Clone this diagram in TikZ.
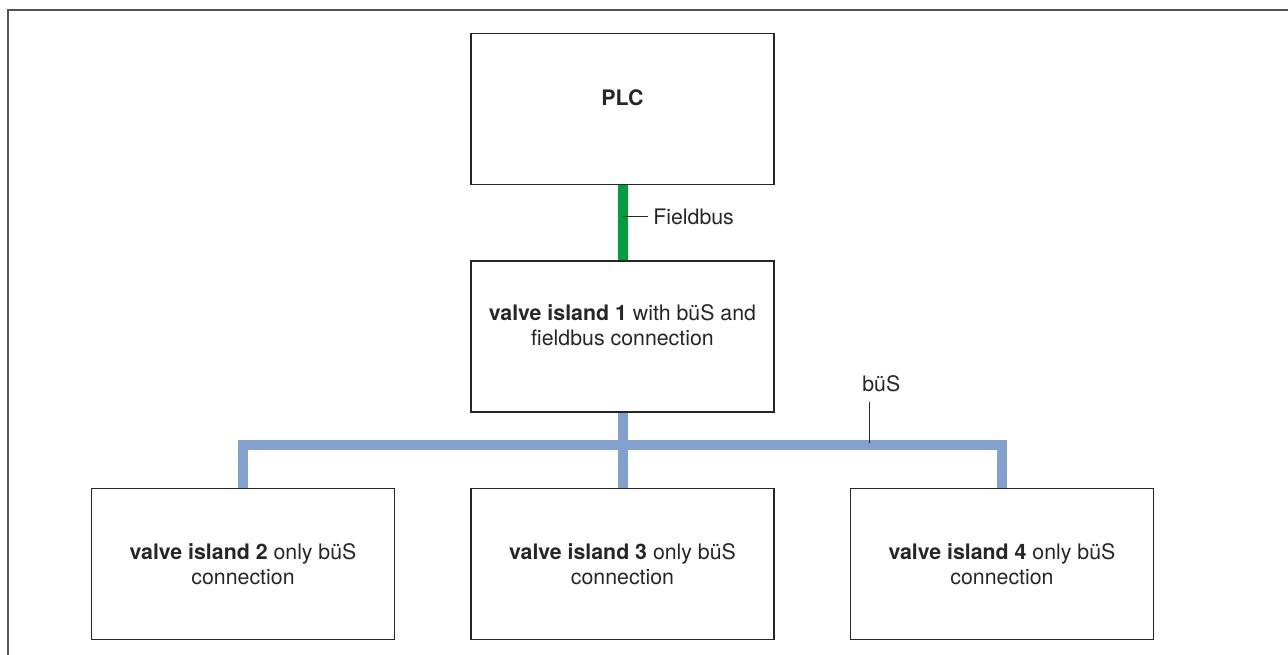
\documentclass[tikz,border=0pt]{standalone}
\usepackage{fontspec}
\setmainfont{TeX Gyre Heros}
\usetikzlibrary{positioning}
\definecolor{busblue}{RGB}{130,161,206}
\definecolor{fbgreen}{RGB}{0,158,61}
\definecolor{framegray}{RGB}{85,85,85}

\begin{document}
\begin{tikzpicture}[
    x=0.75pt, y=-0.75pt,
    node distance=56.25pt and 56.25pt,
    box/.style={draw=black!85, line width=1.1pt, align=center,
                minimum width=227.25pt, minimum height=113.25pt,
                text=black!85, font=\fontsize{16}{19}\selectfont},
    txt/.style={align=center, text=black!85, font=\fontsize{16}{19}\selectfont},
    lbl/.style={text=black!85, font=\fontsize{16}{19}\selectfont, inner sep=3.75pt},
    bus/.style={line width=7.5pt, busblue},
    fbus/.style={line width=7.5pt, fbgreen},
    tick/.style={line width=0.75pt, black!85}
  ]
    \useasboundingbox (0,0) rectangle (1288,655);
    \draw[framegray, line width=1.5pt] (8,655) -- (8,10) -- (1288,10);

    % controller and first island
    \node[box] (plc) at (622.5,109) {};
    \node[txt] (plctext) at ([yshift=8.5pt]plc.center) {\bfseries PLC};
    \node[box, below=of plc] (isl1) {};
    \node[txt] (isl1text) at ([yshift=8.25pt]isl1.center)
      {\textbf{valve island 1} with büS and\\fieldbus connection};

    % bus-only islands
    \node[box, below=of isl1] (isl3) {\textbf{valve island 3} only büS\\connection};
    \node[box, left=of isl3] (isl2) {\textbf{valve island 2} only büS\\connection};
    \node[box, right=of isl3] (isl4) {\textbf{valve island 4} only büS\\connection};

    % fieldbus
    \draw[fbus] (plc) -- (isl1);
    \coordinate (fbtap) at (623,217);
    \node[lbl, anchor=west] (fblbl) at (648,217) {Fieldbus};
    \draw[tick] (fbtap) -- (fblbl.west);

    % büS
    \coordinate (bus) at ([yshift=-24pt]isl1.south);
    \draw[bus] (isl1) -- (isl3);
    \draw[bus] (isl2.north) -- (isl2.north |- bus) -- (isl4.north |- bus) -- (isl4.north);
    \coordinate (bustap) at (869,443);
    \coordinate (bustick) at (869,402);
    \node[lbl, anchor=south west, inner sep=0pt] (buslbl) at (862,392) {büS};
    \draw[tick] (bustap) -- (bustick);
  \end{tikzpicture}
\end{document}
